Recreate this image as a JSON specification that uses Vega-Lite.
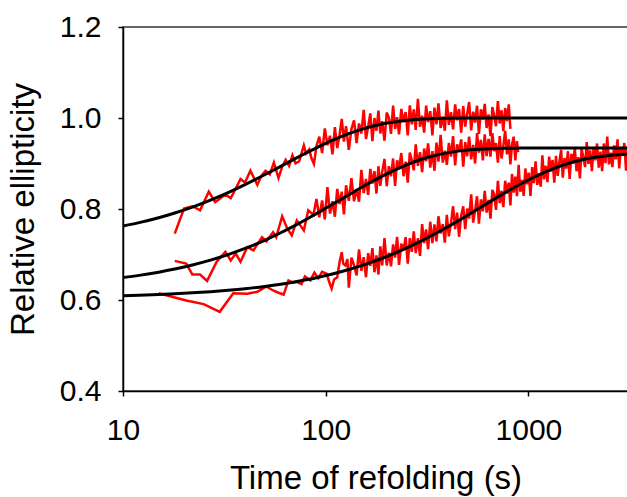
{
"$schema": "https://vega.github.io/schema/vega-lite/v6.json",
"width": 505, "height": 364,
"autosize": {"type": "none"},
"padding": {"left": 123, "top": 27, "right": 0, "bottom": 106},
"background": "white",
"config": {
 "view": {"stroke": "#333333", "strokeWidth": 1.5},
 "axis": {"domainColor": "#000", "domainWidth": 1.5, "tickColor": "#000", "tickWidth": 1.5, "tickSize": 5, "labelColor": "#000", "titleColor": "#000", "labelFont": "Liberation Sans", "titleFont": "Liberation Sans", "labelFontSize": 30, "titleFontSize": 33, "titleFontWeight": "normal", "grid": false, "labelFlush": false, "labelOverlap": false}
},
"datasets": {
"raw": [
{"t":18,"v":0.746,"s":"a"},{"t":20,"v":0.801,"s":"a"},{"t":22,"v":0.806,"s":"a"},{"t":24,"v":0.797,"s":"a"},{"t":26.5,"v":0.838,"s":"a"},{"t":28.5,"v":0.815,"s":"a"},{"t":32,"v":0.832,"s":"a"},{"t":34,"v":0.824,"s":"a"},{"t":36,"v":0.845,"s":"a"},{"t":38,"v":0.866,"s":"a"},{"t":40,"v":0.858,"s":"a"},{"t":42.5,"v":0.884,"s":"a"},{"t":46,"v":0.853,"s":"a"},{"t":48,"v":0.872,"s":"a"},{"t":50.5,"v":0.884,"s":"a"},{"t":53,"v":0.876,"s":"a"},{"t":55.5,"v":0.902,"s":"a"},{"t":58.5,"v":0.868,"s":"a"},{"t":61,"v":0.893,"s":"a"},{"t":63.5,"v":0.908,"s":"a"},{"t":66,"v":0.895,"s":"a"},{"t":68.5,"v":0.918,"s":"a"},{"t":71,"v":0.9,"s":"a"},{"t":74,"v":0.905,"s":"a"},{"t":78,"v":0.94,"s":"a"},{"t":80,"v":0.922,"s":"a"},{"t":83,"v":0.931,"s":"a"},{"t":85,"v":0.912,"s":"a"},{"t":87.5,"v":0.899,"s":"a"},{"t":90,"v":0.938,"s":"a"},
{"t":93,"v":0.959,"s":"a"},{"t":96,"v":0.923,"s":"a"},{"t":99,"v":0.977,"s":"a"},{"t":102,"v":0.94,"s":"a"},{"t":105,"v":0.961,"s":"a"},{"t":108,"v":0.92,"s":"a"},{"t":111,"v":0.98,"s":"a"},{"t":114,"v":0.934,"s":"a"},{"t":117,"v":0.962,"s":"a"},{"t":120,"v":0.998,"s":"a"},{"t":123,"v":0.948,"s":"a"},{"t":126,"v":0.982,"s":"a"},{"t":130,"v":0.93,"s":"a"},{"t":134,"v":0.976,"s":"a"},{"t":138,"v":0.995,"s":"a"},{"t":142,"v":0.945,"s":"a"},{"t":146,"v":0.988,"s":"a"},{"t":150,"v":0.966,"s":"a"},{"t":154,"v":1.018,"s":"a"},{"t":158,"v":0.954,"s":"a"},{"t":162,"v":0.981,"s":"a"},{"t":166,"v":1.01,"s":"a"},{"t":170,"v":0.949,"s":"a"},{"t":174,"v":1.0,"s":"a"},{"t":178,"v":0.972,"s":"a"},{"t":182,"v":1.016,"s":"a"},{"t":186,"v":0.966,"s":"a"},{"t":190,"v":0.993,"s":"a"},{"t":195,"v":0.95,"s":"a"},{"t":200,"v":1.012,"s":"a"},{"t":205,"v":1.001,"s":"a"},{"t":210,"v":0.965,"s":"a"},{"t":215,"v":1.027,"s":"a"},{"t":220,"v":0.976,"s":"a"},{"t":225,"v":1.002,"s":"a"},{"t":230,"v":0.964,"s":"a"},{"t":236,"v":1.02,"s":"a"},{"t":242,"v":0.991,"s":"a"},{"t":248,"v":1.013,"s":"a"},{"t":254,"v":0.962,"s":"a"},{"t":260,"v":1.028,"s":"a"},{"t":266,"v":0.986,"s":"a"},{"t":272,"v":1.019,"s":"a"},{"t":278,"v":0.974,"s":"a"},{"t":285,"v":1.042,"s":"a"},{"t":292,"v":0.981,"s":"a"},{"t":299,"v":1.005,"s":"a"},{"t":306,"v":0.968,"s":"a"},{"t":313,"v":1.027,"s":"a"},{"t":320,"v":0.991,"s":"a"},{"t":328,"v":1.015,"s":"a"},{"t":336,"v":0.962,"s":"a"},{"t":344,"v":1.023,"s":"a"},{"t":352,"v":0.986,"s":"a"},{"t":360,"v":1.032,"s":"a"},{"t":369,"v":0.978,"s":"a"},{"t":378,"v":1.003,"s":"a"},{"t":387,"v":0.972,"s":"a"},{"t":396,"v":1.039,"s":"a"},{"t":405,"v":0.985,"s":"a"},{"t":415,"v":1.013,"s":"a"},{"t":425,"v":0.975,"s":"a"},{"t":435,"v":1.03,"s":"a"},{"t":445,"v":0.995,"s":"a"},{"t":455,"v":1.02,"s":"a"},{"t":466,"v":0.968,"s":"a"},{"t":477,"v":1.026,"s":"a"},{"t":488,"v":0.981,"s":"a"},{"t":499,"v":1.01,"s":"a"},{"t":510,"v":1.035,"s":"a"},{"t":522,"v":0.973,"s":"a"},{"t":534,"v":1.014,"s":"a"},{"t":546,"v":0.99,"s":"a"},{"t":558,"v":1.027,"s":"a"},{"t":570,"v":0.965,"s":"a"},{"t":583,"v":1.019,"s":"a"},{"t":596,"v":0.997,"s":"a"},{"t":609,"v":1.031,"s":"a"},{"t":622,"v":0.978,"s":"a"},{"t":636,"v":1.008,"s":"a"},{"t":650,"v":0.96,"s":"a"},{"t":664,"v":1.024,"s":"a"},{"t":678,"v":1.005,"s":"a"},{"t":692,"v":0.982,"s":"a"},{"t":707,"v":1.037,"s":"a"},{"t":722,"v":0.988,"s":"a"},{"t":737,"v":1.017,"s":"a"},{"t":752,"v":0.971,"s":"a"},{"t":768,"v":1.022,"s":"a"},{"t":784,"v":0.993,"s":"a"},{"t":800,"v":1.03,"s":"a"},{"t":815,"v":0.976,"s":"a"},
{"t":18,"v":0.686,"s":"b"},{"t":20.5,"v":0.68,"s":"b"},{"t":22,"v":0.656,"s":"b"},{"t":24,"v":0.656,"s":"b"},{"t":26,"v":0.642,"s":"b"},{"t":29,"v":0.684,"s":"b"},{"t":32,"v":0.706,"s":"b"},{"t":34,"v":0.687,"s":"b"},{"t":36,"v":0.702,"s":"b"},{"t":38,"v":0.684,"s":"b"},{"t":41,"v":0.716,"s":"b"},{"t":44,"v":0.709,"s":"b"},{"t":48.5,"v":0.738,"s":"b"},{"t":51,"v":0.729,"s":"b"},{"t":55,"v":0.749,"s":"b"},{"t":57,"v":0.738,"s":"b"},{"t":61,"v":0.784,"s":"b"},{"t":64.5,"v":0.758,"s":"b"},{"t":68,"v":0.742,"s":"b"},{"t":72,"v":0.775,"s":"b"},{"t":78,"v":0.753,"s":"b"},{"t":82,"v":0.797,"s":"b"},{"t":87,"v":0.787,"s":"b"},
{"t":90,"v":0.822,"s":"b"},{"t":93,"v":0.782,"s":"b"},{"t":96,"v":0.819,"s":"b"},{"t":99,"v":0.777,"s":"b"},{"t":102,"v":0.848,"s":"b"},{"t":105,"v":0.79,"s":"b"},{"t":108,"v":0.817,"s":"b"},{"t":111,"v":0.783,"s":"b"},{"t":114,"v":0.844,"s":"b"},{"t":117,"v":0.811,"s":"b"},{"t":120,"v":0.838,"s":"b"},{"t":123,"v":0.788,"s":"b"},{"t":126,"v":0.852,"s":"b"},{"t":130,"v":0.818,"s":"b"},{"t":134,"v":0.868,"s":"b"},{"t":138,"v":0.817,"s":"b"},{"t":142,"v":0.844,"s":"b"},{"t":146,"v":0.816,"s":"b"},{"t":150,"v":0.886,"s":"b"},{"t":154,"v":0.835,"s":"b"},{"t":158,"v":0.866,"s":"b"},{"t":162,"v":0.831,"s":"b"},{"t":166,"v":0.888,"s":"b"},{"t":170,"v":0.856,"s":"b"},{"t":174,"v":0.883,"s":"b"},{"t":178,"v":0.834,"s":"b"},{"t":182,"v":0.894,"s":"b"},{"t":186,"v":0.851,"s":"b"},{"t":190,"v":0.882,"s":"b"},{"t":195,"v":0.91,"s":"b"},{"t":200,"v":0.85,"s":"b"},{"t":205,"v":0.894,"s":"b"},{"t":210,"v":0.872,"s":"b"},{"t":215,"v":0.911,"s":"b"},{"t":220,"v":0.851,"s":"b"},{"t":225,"v":0.907,"s":"b"},{"t":230,"v":0.887,"s":"b"},{"t":236,"v":0.923,"s":"b"},{"t":242,"v":0.872,"s":"b"},{"t":248,"v":0.904,"s":"b"},{"t":254,"v":0.858,"s":"b"},{"t":260,"v":0.924,"s":"b"},{"t":266,"v":0.907,"s":"b"},{"t":272,"v":0.885,"s":"b"},{"t":278,"v":0.942,"s":"b"},{"t":285,"v":0.895,"s":"b"},{"t":292,"v":0.925,"s":"b"},{"t":299,"v":0.881,"s":"b"},{"t":306,"v":0.933,"s":"b"},{"t":313,"v":0.905,"s":"b"},{"t":320,"v":0.944,"s":"b"},{"t":328,"v":0.891,"s":"b"},{"t":336,"v":0.927,"s":"b"},{"t":344,"v":0.884,"s":"b"},{"t":352,"v":0.946,"s":"b"},{"t":360,"v":0.904,"s":"b"},{"t":369,"v":0.963,"s":"b"},{"t":378,"v":0.902,"s":"b"},{"t":387,"v":0.928,"s":"b"},{"t":396,"v":0.897,"s":"b"},{"t":405,"v":0.945,"s":"b"},{"t":415,"v":0.915,"s":"b"},{"t":425,"v":0.96,"s":"b"},{"t":435,"v":0.896,"s":"b"},{"t":445,"v":0.942,"s":"b"},{"t":455,"v":0.926,"s":"b"},{"t":466,"v":0.953,"s":"b"},{"t":477,"v":0.893,"s":"b"},{"t":488,"v":0.947,"s":"b"},{"t":499,"v":0.916,"s":"b"},{"t":510,"v":0.959,"s":"b"},{"t":522,"v":0.909,"s":"b"},{"t":534,"v":0.941,"s":"b"},{"t":546,"v":0.9,"s":"b"},{"t":558,"v":0.967,"s":"b"},{"t":570,"v":0.924,"s":"b"},{"t":583,"v":0.952,"s":"b"},{"t":596,"v":0.907,"s":"b"},{"t":609,"v":0.964,"s":"b"},{"t":622,"v":0.916,"s":"b"},{"t":636,"v":0.954,"s":"b"},{"t":650,"v":0.915,"s":"b"},{"t":664,"v":0.967,"s":"b"},{"t":678,"v":0.927,"s":"b"},{"t":692,"v":0.945,"s":"b"},{"t":707,"v":0.902,"s":"b"},{"t":722,"v":0.96,"s":"b"},{"t":737,"v":0.911,"s":"b"},{"t":752,"v":0.938,"s":"b"},{"t":768,"v":0.972,"s":"b"},{"t":784,"v":0.92,"s":"b"},{"t":800,"v":0.953,"s":"b"},{"t":815,"v":0.898,"s":"b"},{"t":830,"v":0.942,"s":"b"},{"t":846,"v":0.959,"s":"b"},{"t":862,"v":0.907,"s":"b"},{"t":878,"v":0.949,"s":"b"},{"t":890,"v":0.925,"s":"b"},
{"t":15,"v":0.615,"s":"c"},{"t":20.5,"v":0.599,"s":"c"},{"t":25,"v":0.591,"s":"c"},{"t":30,"v":0.574,"s":"c"},{"t":35,"v":0.615,"s":"c"},{"t":41,"v":0.614,"s":"c"},{"t":46,"v":0.618,"s":"c"},{"t":51,"v":0.63,"s":"c"},{"t":55,"v":0.621,"s":"c"},{"t":58.5,"v":0.616,"s":"c"},{"t":62,"v":0.612,"s":"c"},{"t":65.5,"v":0.643,"s":"c"},{"t":69,"v":0.638,"s":"c"},{"t":72,"v":0.64,"s":"c"},{"t":76,"v":0.635,"s":"c"},{"t":79,"v":0.652,"s":"c"},{"t":84,"v":0.643,"s":"c"},{"t":88,"v":0.66,"s":"c"},{"t":92,"v":0.648,"s":"c"},{"t":96,"v":0.662,"s":"c"},{"t":101,"v":0.658,"s":"c"},{"t":104,"v":0.64,"s":"c"},{"t":107,"v":0.625,"s":"c"},{"t":110,"v":0.645,"s":"c"},{"t":114,"v":0.65,"s":"c"},{"t":117,"v":0.683,"s":"c"},{"t":120,"v":0.705,"s":"c"},{"t":122,"v":0.68,"s":"c"},{"t":125,"v":0.676,"s":"c"},{"t":128,"v":0.69,"s":"c"},
{"t":130,"v":0.627,"s":"c"},{"t":134,"v":0.693,"s":"c"},{"t":138,"v":0.676,"s":"c"},{"t":142,"v":0.654,"s":"c"},{"t":146,"v":0.711,"s":"c"},{"t":150,"v":0.664,"s":"c"},{"t":154,"v":0.694,"s":"c"},{"t":158,"v":0.65,"s":"c"},{"t":162,"v":0.703,"s":"c"},{"t":166,"v":0.675,"s":"c"},{"t":170,"v":0.714,"s":"c"},{"t":174,"v":0.661,"s":"c"},{"t":178,"v":0.698,"s":"c"},{"t":182,"v":0.656,"s":"c"},{"t":186,"v":0.718,"s":"c"},{"t":190,"v":0.676,"s":"c"},{"t":195,"v":0.736,"s":"c"},{"t":200,"v":0.676,"s":"c"},{"t":205,"v":0.704,"s":"c"},{"t":210,"v":0.674,"s":"c"},{"t":215,"v":0.722,"s":"c"},{"t":220,"v":0.693,"s":"c"},{"t":225,"v":0.739,"s":"c"},{"t":230,"v":0.677,"s":"c"},{"t":236,"v":0.724,"s":"c"},{"t":242,"v":0.709,"s":"c"},{"t":248,"v":0.738,"s":"c"},{"t":254,"v":0.68,"s":"c"},{"t":260,"v":0.736,"s":"c"},{"t":266,"v":0.706,"s":"c"},{"t":272,"v":0.751,"s":"c"},{"t":278,"v":0.703,"s":"c"},{"t":285,"v":0.736,"s":"c"},{"t":292,"v":0.697,"s":"c"},{"t":299,"v":0.767,"s":"c"},{"t":306,"v":0.725,"s":"c"},{"t":313,"v":0.755,"s":"c"},{"t":320,"v":0.712,"s":"c"},{"t":328,"v":0.772,"s":"c"},{"t":336,"v":0.725,"s":"c"},{"t":344,"v":0.766,"s":"c"},{"t":352,"v":0.729,"s":"c"},{"t":360,"v":0.784,"s":"c"},{"t":369,"v":0.746,"s":"c"},{"t":378,"v":0.767,"s":"c"},{"t":387,"v":0.726,"s":"c"},{"t":396,"v":0.787,"s":"c"},{"t":405,"v":0.74,"s":"c"},{"t":415,"v":0.769,"s":"c"},{"t":425,"v":0.806,"s":"c"},{"t":435,"v":0.756,"s":"c"},{"t":445,"v":0.792,"s":"c"},{"t":455,"v":0.739,"s":"c"},{"t":466,"v":0.786,"s":"c"},{"t":477,"v":0.806,"s":"c"},{"t":488,"v":0.756,"s":"c"},{"t":499,"v":0.801,"s":"c"},{"t":510,"v":0.779,"s":"c"},{"t":522,"v":0.832,"s":"c"},{"t":534,"v":0.77,"s":"c"},{"t":546,"v":0.798,"s":"c"},{"t":558,"v":0.828,"s":"c"},{"t":570,"v":0.768,"s":"c"},{"t":583,"v":0.821,"s":"c"},{"t":596,"v":0.795,"s":"c"},{"t":609,"v":0.84,"s":"c"},{"t":622,"v":0.792,"s":"c"},{"t":636,"v":0.82,"s":"c"},{"t":650,"v":0.779,"s":"c"},{"t":664,"v":0.842,"s":"c"},{"t":678,"v":0.833,"s":"c"},{"t":692,"v":0.798,"s":"c"},{"t":707,"v":0.862,"s":"c"},{"t":722,"v":0.813,"s":"c"},{"t":737,"v":0.84,"s":"c"},{"t":752,"v":0.804,"s":"c"},{"t":768,"v":0.862,"s":"c"},{"t":784,"v":0.834,"s":"c"},{"t":800,"v":0.858,"s":"c"},{"t":815,"v":0.808,"s":"c"},{"t":830,"v":0.877,"s":"c"},{"t":846,"v":0.836,"s":"c"},{"t":862,"v":0.871,"s":"c"},{"t":878,"v":0.828,"s":"c"},{"t":895,"v":0.897,"s":"c"},{"t":912,"v":0.838,"s":"c"},{"t":930,"v":0.864,"s":"c"},{"t":948,"v":0.829,"s":"c"},{"t":966,"v":0.889,"s":"c"},{"t":985,"v":0.854,"s":"c"},{"t":1004,"v":0.88,"s":"c"},{"t":1024,"v":0.829,"s":"c"},{"t":1044,"v":0.892,"s":"c"},{"t":1064,"v":0.857,"s":"c"},{"t":1085,"v":0.905,"s":"c"},{"t":1106,"v":0.853,"s":"c"},{"t":1128,"v":0.878,"s":"c"},{"t":1150,"v":0.849,"s":"c"},{"t":1172,"v":0.918,"s":"c"},{"t":1195,"v":0.865,"s":"c"},{"t":1218,"v":0.895,"s":"c"},{"t":1242,"v":0.859,"s":"c"},{"t":1266,"v":0.915,"s":"c"},{"t":1291,"v":0.882,"s":"c"},{"t":1316,"v":0.908,"s":"c"},{"t":1342,"v":0.858,"s":"c"},{"t":1368,"v":0.917,"s":"c"},{"t":1395,"v":0.873,"s":"c"},{"t":1422,"v":0.904,"s":"c"},{"t":1450,"v":0.93,"s":"c"},{"t":1478,"v":0.869,"s":"c"},{"t":1507,"v":0.912,"s":"c"},{"t":1537,"v":0.889,"s":"c"},{"t":1567,"v":0.927,"s":"c"},{"t":1598,"v":0.866,"s":"c"},{"t":1629,"v":0.921,"s":"c"},{"t":1661,"v":0.9,"s":"c"},{"t":1694,"v":0.935,"s":"c"},{"t":1727,"v":0.883,"s":"c"},{"t":1761,"v":0.914,"s":"c"},{"t":1795,"v":0.867,"s":"c"},{"t":1830,"v":0.932,"s":"c"},{"t":1866,"v":0.914,"s":"c"},{"t":1903,"v":0.892,"s":"c"},{"t":1940,"v":0.947,"s":"c"},{"t":1978,"v":0.899,"s":"c"},{"t":2017,"v":0.929,"s":"c"},{"t":2057,"v":0.883,"s":"c"},{"t":2097,"v":0.935,"s":"c"},{"t":2138,"v":0.907,"s":"c"},{"t":2180,"v":0.944,"s":"c"},{"t":2223,"v":0.891,"s":"c"},{"t":2267,"v":0.926,"s":"c"},{"t":2311,"v":0.883,"s":"c"},{"t":2356,"v":0.944,"s":"c"},{"t":2402,"v":0.901,"s":"c"},{"t":2449,"v":0.959,"s":"c"},{"t":2497,"v":0.898,"s":"c"},{"t":2546,"v":0.924,"s":"c"},{"t":2596,"v":0.892,"s":"c"},{"t":2647,"v":0.94,"s":"c"},{"t":2699,"v":0.909,"s":"c"},{"t":2752,"v":0.953,"s":"c"},{"t":2806,"v":0.889,"s":"c"},{"t":2861,"v":0.935,"s":"c"},{"t":2917,"v":0.918,"s":"c"},{"t":2974,"v":0.945,"s":"c"},{"t":3032,"v":0.884,"s":"c"},{"t":3091,"v":0.938,"s":"c"}
],
"fit": [
{"t":10,"v":0.7625,"s":"a"},{"t":12,"v":0.770,"s":"a"},{"t":15,"v":0.7808,"s":"a"},{"t":18,"v":0.7913,"s":"a"},{"t":22,"v":0.8042,"s":"a"},{"t":27,"v":0.8194,"s":"a"},{"t":33,"v":0.836,"s":"a"},{"t":40,"v":0.8535,"s":"a"},{"t":50,"v":0.8753,"s":"a"},{"t":60,"v":0.8938,"s":"a"},{"t":70,"v":0.9096,"s":"a"},{"t":80,"v":0.923,"s":"a"},{"t":90,"v":0.9345,"s":"a"},{"t":100,"v":0.9442,"s":"a"},{"t":115,"v":0.9562,"s":"a"},{"t":130,"v":0.9656,"s":"a"},{"t":150,"v":0.9751,"s":"a"},{"t":170,"v":0.9819,"s":"a"},{"t":200,"v":0.9888,"s":"a"},{"t":230,"v":0.9931,"s":"a"},{"t":270,"v":0.9964,"s":"a"},{"t":320,"v":0.9984,"s":"a"},{"t":380,"v":0.9994,"s":"a"},{"t":450,"v":0.9998,"s":"a"},{"t":530,"v":1.0,"s":"a"},{"t":750,"v":1.0,"s":"a"},{"t":1200,"v":1.0,"s":"a"},{"t":2000,"v":1.0,"s":"a"},{"t":3500,"v":1.0,"s":"a"},
{"t":10,"v":0.6493,"s":"b"},{"t":12,"v":0.6541,"s":"b"},{"t":15,"v":0.6611,"s":"b"},{"t":18,"v":0.668,"s":"b"},{"t":22,"v":0.6769,"s":"b"},{"t":27,"v":0.6876,"s":"b"},{"t":33,"v":0.6998,"s":"b"},{"t":40,"v":0.7133,"s":"b"},{"t":50,"v":0.7313,"s":"b"},{"t":60,"v":0.7478,"s":"b"},{"t":70,"v":0.763,"s":"b"},{"t":80,"v":0.777,"s":"b"},{"t":90,"v":0.7898,"s":"b"},{"t":100,"v":0.8015,"s":"b"},{"t":115,"v":0.8173,"s":"b"},{"t":130,"v":0.8313,"s":"b"},{"t":150,"v":0.8474,"s":"b"},{"t":170,"v":0.8609,"s":"b"},{"t":200,"v":0.8774,"s":"b"},{"t":230,"v":0.8901,"s":"b"},{"t":270,"v":0.9028,"s":"b"},{"t":320,"v":0.9136,"s":"b"},{"t":380,"v":0.9217,"s":"b"},{"t":450,"v":0.9272,"s":"b"},{"t":530,"v":0.9306,"s":"b"},{"t":630,"v":0.9325,"s":"b"},{"t":750,"v":0.9335,"s":"b"},{"t":900,"v":0.9338,"s":"b"},{"t":1050,"v":0.934,"s":"b"},{"t":1500,"v":0.934,"s":"b"},{"t":2500,"v":0.934,"s":"b"},{"t":3500,"v":0.934,"s":"b"},
{"t":10,"v":0.6094,"s":"c"},{"t":12,"v":0.6104,"s":"c"},{"t":15,"v":0.612,"s":"c"},{"t":18,"v":0.6136,"s":"c"},{"t":22,"v":0.6157,"s":"c"},{"t":27,"v":0.6183,"s":"c"},{"t":33,"v":0.6214,"s":"c"},{"t":40,"v":0.6249,"s":"c"},{"t":50,"v":0.6299,"s":"c"},{"t":60,"v":0.6348,"s":"c"},{"t":70,"v":0.6397,"s":"c"},{"t":80,"v":0.6444,"s":"c"},{"t":90,"v":0.6491,"s":"c"},{"t":100,"v":0.6537,"s":"c"},{"t":115,"v":0.6604,"s":"c"},{"t":130,"v":0.6671,"s":"c"},{"t":150,"v":0.6755,"s":"c"},{"t":170,"v":0.6838,"s":"c"},{"t":200,"v":0.6956,"s":"c"},{"t":230,"v":0.7069,"s":"c"},{"t":270,"v":0.7211,"s":"c"},{"t":320,"v":0.7374,"s":"c"},{"t":380,"v":0.7554,"s":"c"},{"t":450,"v":0.774,"s":"c"},{"t":530,"v":0.7928,"s":"c"},{"t":630,"v":0.813,"s":"c"},{"t":750,"v":0.8332,"s":"c"},{"t":900,"v":0.8532,"s":"c"},{"t":1050,"v":0.8687,"s":"c"},{"t":1250,"v":0.884,"s":"c"},{"t":1500,"v":0.8972,"s":"c"},{"t":1800,"v":0.9071,"s":"c"},{"t":2100,"v":0.913,"s":"c"},{"t":2500,"v":0.9175,"s":"c"},{"t":3000,"v":0.9201,"s":"c"},{"t":3500,"v":0.9212,"s":"c"}
]
},
"encoding": {
 "x": {"field": "t", "type": "quantitative", "scale": {"type": "log", "domain": [10, 3100], "nice": false}, "axis": {"title": "Time of refolding (s)", "values": [10, 100, 1000], "format": "d", "labelPadding": 19, "titleBaseline": "alphabetic", "titleY": 97}},
 "y": {"field": "v", "type": "quantitative", "scale": {"domain": [0.4, 1.2], "nice": false, "zero": false}, "axis": {"title": "Relative ellipticity", "values": [0.4, 0.6, 0.8, 1.0, 1.2], "format": ".1f", "labelPadding": 17, "titleBaseline": "alphabetic", "titleX": -90, "titleY": 182}},
 "detail": {"field": "s", "type": "nominal"}
},
"layer": [
 {"data": {"name": "raw"}, "mark": {"type": "line", "color": "#ff0000", "strokeWidth": 2.5, "clip": true}},
 {"data": {"name": "fit"}, "mark": {"type": "line", "color": "#000000", "strokeWidth": 3, "clip": true, "interpolate": "monotone"}}
]
}
